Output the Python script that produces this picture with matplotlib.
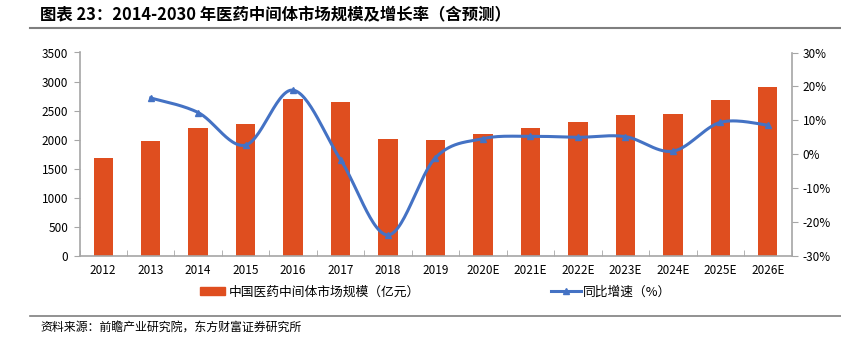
import numpy as np
import matplotlib.pyplot as plt
from matplotlib.lines import Line2D
from matplotlib.patches import Patch

plt.rcParams['font.family'] = ['Noto Sans CJK SC', 'DejaVu Sans']

years = ['2012', '2013', '2014', '2015', '2016', '2017', '2018', '2019',
         '2020E', '2021E', '2022E', '2023E', '2024E', '2025E', '2026E']
# 市场规模（亿元）
market = [1690, 1970, 2210, 2270, 2700, 2650, 2020, 2000,
          2090, 2200, 2310, 2430, 2450, 2680, 2910]
# 同比增速（%），从 2013 年开始
growth = [16.6, 12.3, 2.7, 18.9, -1.6, -23.8, -1.0,
          4.6, 5.3, 5.0, 5.2, 0.9, 9.4, 8.6]

bar_color = '#DF4E1F'
line_color = '#4472C4'
grey = '#A6A6A6'


def smooth(xs, ys, steps=30):
    # cubic bezier through the points, control points like excel's smoothed line
    xs = np.asarray(xs, float)
    ys = np.asarray(ys, float)
    n = len(xs)
    px, py = [], []
    for i in range(n - 1):
        x0, y0 = xs[max(i - 1, 0)], ys[max(i - 1, 0)]
        x1, y1 = xs[i], ys[i]
        x2, y2 = xs[i + 1], ys[i + 1]
        x3, y3 = xs[min(i + 2, n - 1)], ys[min(i + 2, n - 1)]
        c1x, c1y = x1 + (x2 - x0) / 6, y1 + (y2 - y0) / 6
        c2x, c2y = x2 - (x3 - x1) / 6, y2 - (y3 - y1) / 6
        t = np.linspace(0, 1, steps)
        a, b, c, d = (1 - t) ** 3, 3 * (1 - t) ** 2 * t, 3 * (1 - t) * t ** 2, t ** 3
        px.extend(a * x1 + b * c1x + c * c2x + d * x2)
        py.extend(a * y1 + b * c1y + c * c2y + d * y2)
    return np.array(px), np.array(py)


fig = plt.figure(figsize=(8.41, 3.37), dpi=100)
ax = fig.add_axes([79.5 / 841, 1 - 256 / 337, 712 / 841, 203.5 / 337])
ax2 = ax.twinx()

x = np.arange(len(years))
ax.bar(x, market, width=0.41, color=bar_color, zorder=2)
ax.set_xlim(-0.5, len(years) - 0.5)
ax.set_ylim(0, 3500)
ax.set_yticks(np.arange(0, 3501, 500))

gx = x[1:]
sx, sy = smooth(gx, growth)
ax2.plot(sx, sy, color=line_color, lw=2.2, zorder=3)
ax2.plot(gx, growth, ls='none', marker='^', ms=5, color=line_color, zorder=4)
ax2.set_ylim(-30, 30)
ax2.set_yticks(np.arange(-30, 31, 10))
ax2.set_yticklabels([f'{v}%' for v in range(-30, 31, 10)])

ax.set_xticks(x)
ax.set_xticklabels(years)
ax.set_xticks(np.arange(-0.5, len(years), 1), minor=True)
ax.tick_params(axis='x', which='major', length=0, pad=6, labelsize=8.5)
ax.tick_params(axis='x', which='minor', length=4, color=grey, direction='in')
ax.tick_params(axis='y', length=4, color=grey, labelsize=8.5, pad=4)
ax2.tick_params(axis='y', length=4, color=grey, labelsize=8.5, pad=4)

for a in (ax, ax2):
    for s in a.spines.values():
        s.set_visible(False)
ax.spines['left'].set_visible(True)
ax.spines['bottom'].set_visible(True)
ax2.spines['right'].set_visible(True)
for s in (ax.spines['left'], ax.spines['bottom'], ax2.spines['right']):
    s.set_color(grey)
    s.set_linewidth(1.2)

handles = [Patch(color=bar_color), Line2D([], [], color=line_color, lw=2.2, marker='^', ms=4)]
fig.legend(handles[:1], ['中国医药中间体市场规模（亿元）'], loc='center left',
           bbox_to_anchor=(188 / 841, 1 - 292 / 337), frameon=False, fontsize=9.2,
           handlelength=2.0, handleheight=0.6, handletextpad=0.3)
fig.legend(handles[1:], ['同比增速（%）'], loc='center left',
           bbox_to_anchor=(539 / 841, 1 - 292 / 337), frameon=False, fontsize=9.2,
           handlelength=2.4, handletextpad=0.1)

fig.text(40 / 841, 1 - 15 / 337, '图表 23：2014-2030 年医药中间体市场规模及增长率（含预测）',
         fontsize=11.8, fontweight='bold', va='center', ha='left')
fig.add_artist(Line2D([30 / 841, 1], [1 - 27.5 / 337] * 2, color='#7F7F7F', lw=1.5))
fig.add_artist(Line2D([30 / 841, 1], [1 - 315.5 / 337] * 2, color='#7F7F7F', lw=1.2))
fig.text(40 / 841, 1 - 328 / 337, '资料来源：前瞻产业研究院，东方财富证券研究所',
         fontsize=8.6, va='center', ha='left')

fig.savefig('out.png', dpi=100)
